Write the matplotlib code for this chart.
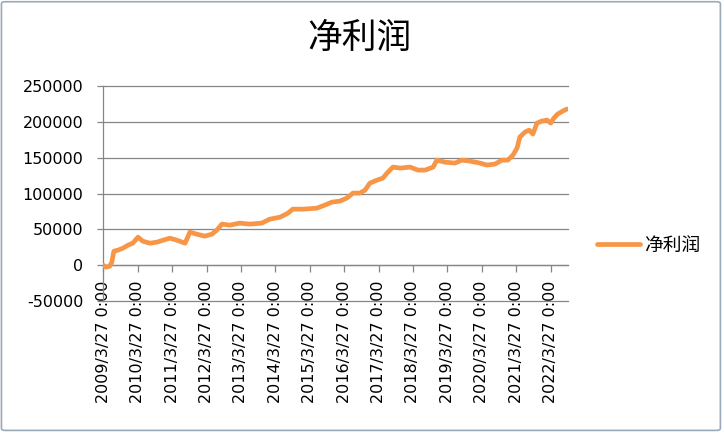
import matplotlib
matplotlib.use("Agg")

import matplotlib.pyplot as plt
from matplotlib.patches import FancyBboxPatch

# ── Data (decimal years) ──
years = [
    2009.23, 2009.31, 2009.42, 2009.48, 2009.54, 2009.66, 2009.80, 2009.95,
    2010.09, 2010.24, 2010.38, 2010.59, 2010.79, 2010.97, 2011.17, 2011.37,
    2011.61, 2011.75, 2011.95, 2012.18, 2012.39, 2012.53, 2012.68, 2012.91,
    2013.20, 2013.49, 2013.84, 2014.07, 2014.37, 2014.60, 2014.74, 2015.04,
    2015.44, 2015.67, 2015.88, 2016.11, 2016.31, 2016.49, 2016.69, 2016.84,
    2016.98, 2017.19, 2017.36, 2017.48, 2017.65, 2017.86, 2018.15, 2018.38,
    2018.59, 2018.82, 2018.93, 2019.16, 2019.45, 2019.66, 2019.89, 2020.18,
    2020.38, 2020.62, 2020.82, 2020.99, 2021.14, 2021.26, 2021.34, 2021.49,
    2021.61, 2021.72, 2021.84, 2021.98, 2022.13, 2022.24, 2022.33, 2022.44,
    2022.59, 2022.71,
]
profit = [
    0, -2800, -1400, 4200, 19600, 21000, 23700, 27900,
    30700, 39100, 33500, 30700, 32100, 34900, 37700, 34900,
    30700, 46100, 43300, 40500, 43300, 48900, 57300, 55900,
    58700, 57300, 58700, 64200, 67000, 72600, 78200, 78200,
    79600, 83800, 88000, 89400, 93600, 100600, 100600, 104700,
    114500, 118700, 121500, 128500, 136900, 135500, 136900, 132700,
    132700, 136900, 146600, 143800, 142500, 146600, 145200, 142500,
    139700, 141100, 146600, 146600, 153600, 163400, 178800, 185700,
    188500, 183000, 198300, 201100, 202500, 198300, 205300, 210900,
    215100, 217900,
]
tick_years = list(range(2009, 2023))
tick_labels = [f"{y}/3/27 0:00" for y in tick_years]
y_ticks = [-50000, 0, 50000, 100000, 150000, 200000, 250000]

series_name = "净利润"
cjk = ["Noto Sans CJK SC", "DejaVu Sans"]

# ── Figure setup ──
fig = plt.figure(figsize=(7.24, 4.33), dpi=100)
fig.patch.set_facecolor("white")
ax = fig.add_axes([0.1427, 0.3048, 0.6418, 0.4965])

grid_col = "#868686"
# spine position first: moving a spine resets the tick objects
for s in ["top", "right"]:
    ax.spines[s].set_visible(False)
ax.spines["bottom"].set_position(("data", 0))
ax.spines["left"].set_color(grid_col)
ax.spines["bottom"].set_color(grid_col)
ax.spines["left"].set_linewidth(0.9)
ax.spines["bottom"].set_linewidth(0.9)

ax.plot(years, profit, color="#F79646", linewidth=3.4,
        solid_capstyle="round", label=series_name, zorder=3)

# axes range / ticks
ax.set_xlim(2009 + 85 / 365, 2022.74)
ax.set_ylim(-50000, 250000)
ax.set_yticks(y_ticks)
ax.set_yticklabels([str(v) for v in y_ticks])
ax.set_xticks([y + 85 / 365 for y in tick_years])
ax.set_xticklabels(tick_labels)

ax.tick_params(axis="y", direction="out", length=4.5, width=0.9,
               color=grid_col, pad=10, labelsize=11.5, labelcolor="black")
ax.tick_params(axis="x", direction="out", length=5, width=0.9,
               color=grid_col, pad=6, labelsize=11.5, labelcolor="black",
               labelrotation=90)

ax.yaxis.grid(True, color=grid_col, linewidth=0.9)
ax.set_axisbelow(True)
for gl in ax.get_ygridlines():
    gl.set_clip_on(False)

# ── Title ──
fig.text(0.497, 0.912, series_name, ha="center", va="center",
         fontsize=25, family=cjk, color="black")

# ── Legend ──
fig.legend(loc="center left", bbox_to_anchor=(0.8246, 0.434),
           frameon=False, borderpad=0, borderaxespad=0,
           handlelength=2.3, handletextpad=0.2,
           prop={"family": cjk, "size": 13.5})

# ── Chart border ──
frame = FancyBboxPatch((0.002, 0.006), 0.993, 0.99,
                       boxstyle="round,pad=0,rounding_size=0.005",
                       transform=fig.transFigure, fill=False,
                       edgecolor="#9aa9b8", linewidth=1.2)
fig.patches.append(frame)

fig.savefig("out.png", dpi=100, facecolor=fig.get_facecolor())
plt.close(fig)
